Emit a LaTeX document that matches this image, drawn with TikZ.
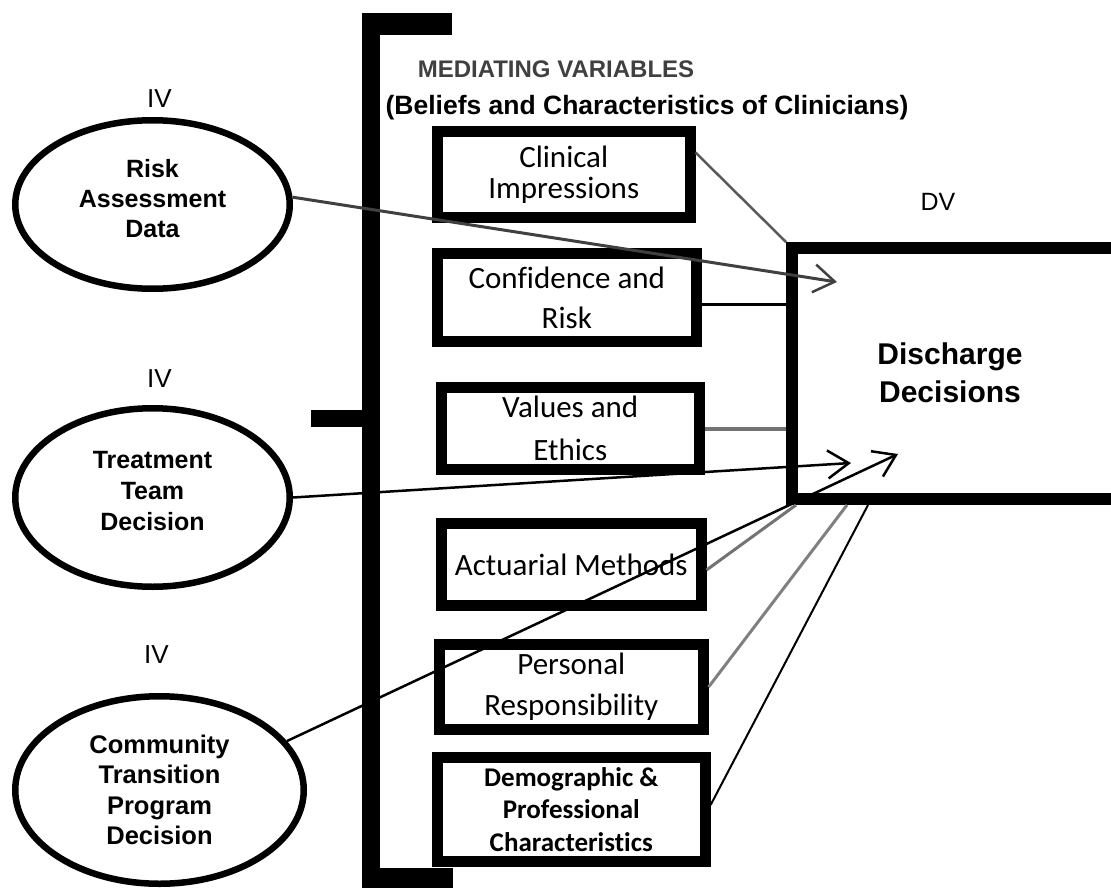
\documentclass[tikz,border=0pt]{standalone}
\usepackage{fontspec}
\setmainfont{Liberation Sans}
\newfontfamily\calib[Ligatures=NoCommon]{Carlito}
\usetikzlibrary{arrows.meta,shapes.geometric,calc}
\begin{document}
\begin{tikzpicture}[x=1pt,y=-1pt,
  ivtxt/.style={inner sep=0pt,font=\fontsize{26}{30}\selectfont},
  oval/.style={ellipse,draw,line width=6.5pt,inner sep=0pt,align=center,font=\bfseries\fontsize{25}{30}\selectfont},
  medbox/.style={draw,line width=11pt,inner sep=0pt,align=center,font=\calib\fontsize{31}{40}\selectfont},
  dvbox/.style={draw,line width=12pt,inner sep=0pt},
  barb/.style={-{Straight Barb[length=21pt,width=28pt,line width=2.5pt]}},
  blk/.style={draw=black,line width=2.5pt},
  gry/.style={draw=black!55,line width=3pt},
]
\useasboundingbox (0,0) rectangle (1111,888);

% bracket
\fill (362,13) rectangle (380,888);
\fill (362,13) rectangle (452,35);
\fill (362,868) rectangle (453,888);
\fill (311,410) rectangle (370,427);

% titles
\node[anchor=base,inner sep=0pt,font=\bfseries\fontsize{24}{28}\selectfont,text=black!75] (medv) at (556,77.5) {MEDIATING VARIABLES};
\node[anchor=base,inner sep=0pt,font=\bfseries\fontsize{26.5}{30}\selectfont] (beliefs) at (647,115) {(Beliefs and Characteristics of Clinicians)};

% IV labels and ovals
\node[ivtxt] (iv1) at (159.5,98.7) {IV};
\node[ivtxt] (iv2) at (159.5,378.7) {IV};
\node[ivtxt] (iv3) at (156.5,655) {IV};

\node[oval,minimum width=274.5pt,minimum height=168.5pt,text depth=12pt] (e1) at (152.5,204.5) {Risk\\Assessment\\Data};
\node[oval,minimum width=274.5pt,minimum height=178.5pt,text depth=13pt,font=\bfseries\fontsize{25}{31}\selectfont] (e2) at (152.5,497.5) {Treatment\\Team\\Decision};
\node[oval,minimum width=288.5pt,minimum height=187.5pt,font=\bfseries\fontsize{25.5}{30.3}\selectfont] (e3) at (159.5,790) {Community\\Transition\\Program\\Decision};

% mediating boxes
\node[medbox,minimum width=252.5pt,minimum height=86pt,font=\calib\fontsize{31}{31}\selectfont] (c1) at (563.75,174.5) {Clinical\\Impressions};
\node[medbox,minimum width=258.6pt,minimum height=88pt] (c2) at (566.8,297.5) {Confidence and\\Risk};
\node[medbox,minimum width=257.5pt,minimum height=82pt,font=\calib\fontsize{31}{43}\selectfont] (c3) at (570.25,428.5) {Values and\\Ethics};
\draw[line width=11pt] ([yshift=5.5pt]c3.south west) -- ([yshift=5.5pt]c3.south east);
\node[medbox,minimum width=259.5pt,minimum height=82pt] (c4) at (571.25,564.5) {Actuarial Methods};
\node[medbox,minimum width=263.6pt,minimum height=85pt,font=\calib\fontsize{31}{41}\selectfont] (c5) at (571.3,687) {Personal\\Responsibility};
\node[medbox,minimum width=267.6pt,minimum height=104pt,font=\calib\bfseries\fontsize{27}{32.5}\selectfont] (c6) at (571.3,809.5) {Demographic \&\\Professional\\Characteristics};

% DV
\node[inner sep=0pt,font=\fontsize{25}{30}\selectfont] (dvl) at (938,202) {DV};
\node[dvbox,minimum width=342pt,minimum height=251pt] (dv) at (963,373.5) {};
\node[inner sep=0pt,align=center,font=\bfseries\fontsize{30}{38}\selectfont] (dvt) at (950,373) {Discharge\\Decisions};

% arrow tips
\coordinate (t1) at (837,282);
\coordinate (t2) at (851,463);
\coordinate (t3) at (898,454);

% connectors
\draw[blk,draw=black!75,line width=3pt,barb] (e1.3) -- (t1);
\draw[blk,barb] (e2.east) -- (t2);
\draw[blk,barb] (e3.21) -- (t3);

\draw[gry,line width=2.5pt,draw=black!65] ([yshift=22pt]c1.east) -- (dv.north west);
\draw[blk,line width=3pt] ([yshift=-6.5pt]c2.east) -- ([yshift=-6.5pt]c2.east -| dv.west);
\draw[gry,line width=4pt] (c3.east) -- (c3.east -| dv.west);
\draw[gry] ([yshift=-5.5pt]c4.east) -- ([xshift=10pt]dv.south west);
\draw[gry,draw=black!50] (c5.east) -- ([xshift=61pt]dv.south west);
\draw[blk,line width=2pt] ([yshift=4.5pt]c6.east) -- ([xshift=82pt]dv.south west);
\end{tikzpicture}
\end{document}
